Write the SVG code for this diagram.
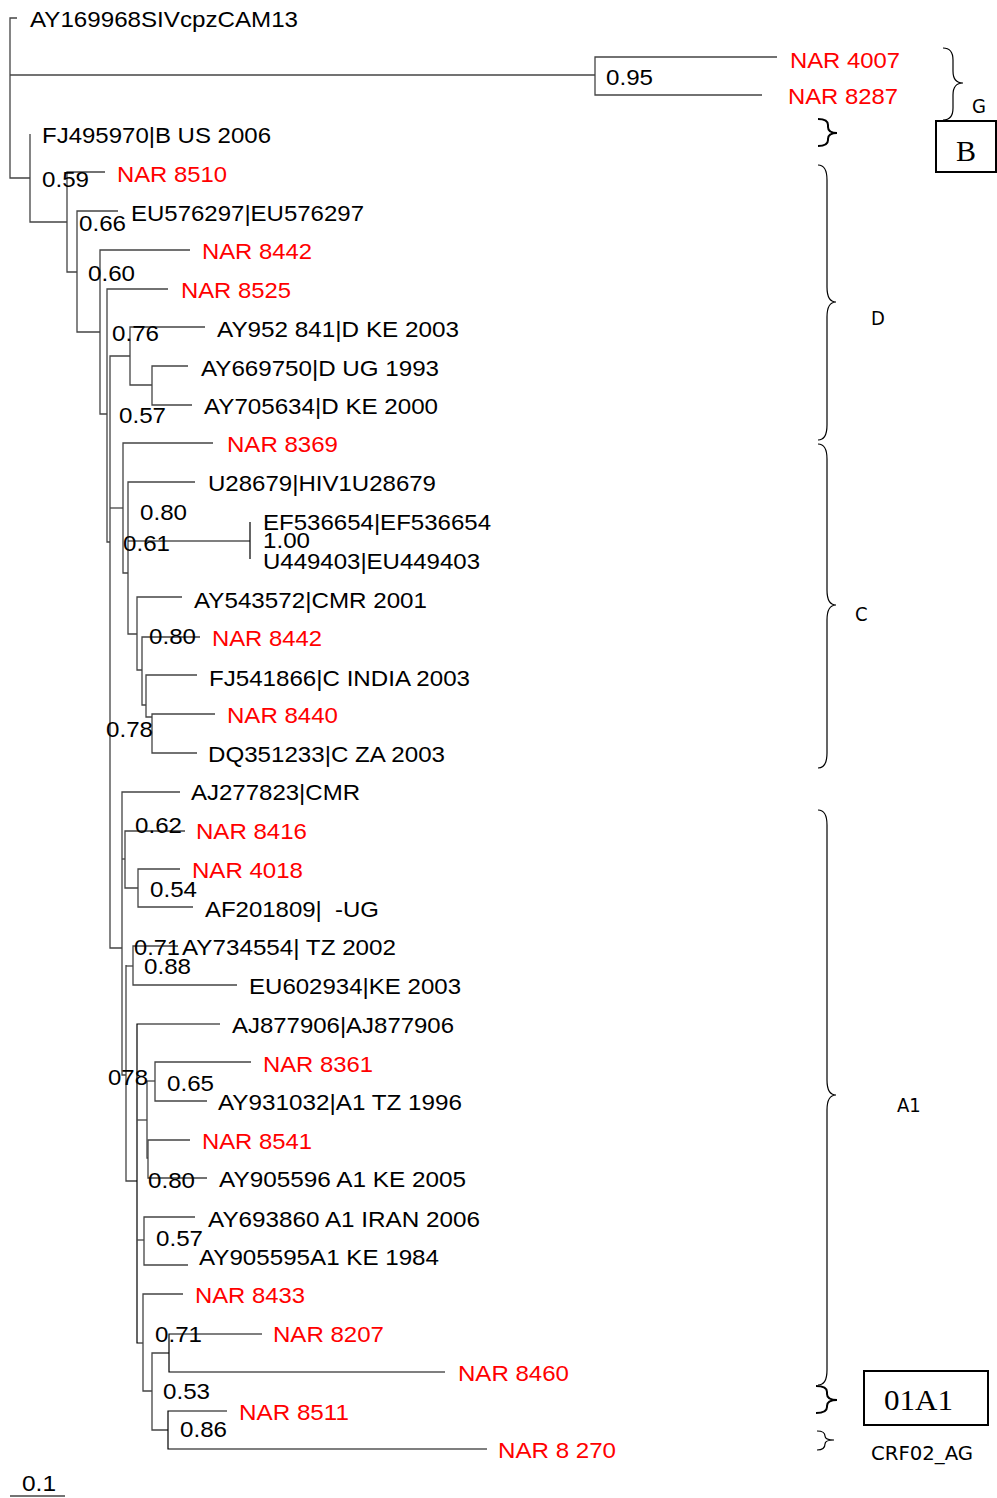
<svg xmlns="http://www.w3.org/2000/svg" width="997" height="1498" viewBox="0 0 997 1498">
<style>
.t{font-family:"Liberation Sans",Arial,sans-serif;font-size:22px;fill:#000}
.r{fill:#f00}
.e{fill:none;stroke:#444;stroke-width:1.3}
.br{fill:none;stroke:#000;stroke-width:1.2}
.bb{fill:none;stroke:#000;stroke-width:2}
.g{font-family:"Liberation Sans Narrow","DejaVu Sans Condensed",sans-serif;font-size:20px;fill:#000}
.box{fill:none;stroke:#000;stroke-width:2}
.s{font-family:"Liberation Serif","Times New Roman",serif;fill:#000}
</style>
<rect width="997" height="1498" fill="#fff"/>
<g id="connectors">
<path class="e" d="M17,18 H10 V178 H30"/>
<path class="e" d="M10,75 H595"/>
<path class="e" d="M777,57 H595 V95 H762"/>
<path class="e" d="M30,134 V222 H67"/>
<path class="e" d="M105,172 H67 V272 H77"/>
<path class="e" d="M118,211 H77 V332 H100"/>
<path class="e" d="M190,250 H100 V414 H107"/>
<path class="e" d="M168,289 H107 V542 H110"/>
<path class="e" d="M130,356 H110 V948 H122"/>
<path class="e" d="M110,508 H123"/>
<path class="e" d="M205,327 H130 V385 H152"/>
<path class="e" d="M188,366 H152 V405 H192"/>
<path class="e" d="M213,443 H123 V573 H128"/>
<path class="e" d="M195,482 H128 V634 H137"/>
<path class="br" d="M128,541 H250 M250,522 V559"/>
<path class="e" d="M182,597 H137 V670 H142"/>
<path class="e" d="M200,637 H142 V705 H146"/>
<path class="e" d="M197,675 H146 V717 H152"/>
<path class="e" d="M215,714 H152 V753 H197"/>
<path class="e" d="M180,792 H122 V1075 H126"/>
<path class="e" d="M122,859 H125"/>
<path class="e" d="M185,831 H125 V888 H138"/>
<path class="e" d="M180,869 H138 V907 H193"/>
<path class="e" d="M126,966 H133"/>
<path class="e" d="M178,946 H133 V985 H237"/>
<path class="e" d="M126,965 V1181 H137"/>
<path class="br" d="M220,1024 H137 V1343 H143"/>
<path class="e" d="M137,1120 H147"/>
<path class="e" d="M147,1081 H155"/>
<path class="e" d="M251,1062 H155 V1101 H207"/>
<path class="e" d="M147,1081 V1158 H148"/>
<path class="e" d="M190,1140 H148 V1178 H207"/>
<path class="e" d="M137,1240 H144"/>
<path class="e" d="M195,1217 H144 V1265 H188"/>
<path class="e" d="M183,1294 H143 V1391 H152"/>
<path class="e" d="M169,1353 H152 V1430 H168"/>
<path class="br" d="M262,1334 H169 V1372 H445"/>
<path class="br" d="M227,1411 H168 V1449 H487"/>
</g>
<g id="leaf-AY169968"><text class="t" x="30" y="27" textLength="268" lengthAdjust="spacingAndGlyphs">AY169968SIVcpzCAM13</text></g>
<g id="leaf-NAR4007"><text class="t r" x="790" y="68" textLength="110" lengthAdjust="spacingAndGlyphs">NAR 4007</text></g>
<g id="leaf-NAR8287"><text class="t r" x="788" y="104" textLength="110" lengthAdjust="spacingAndGlyphs">NAR 8287</text></g>
<g id="bs-095"><text class="t" x="606" y="85" textLength="47" lengthAdjust="spacingAndGlyphs">0.95</text></g>
<g id="leaf-FJ495970"><text class="t" x="42" y="143" textLength="229" lengthAdjust="spacingAndGlyphs">FJ495970|B US 2006</text></g>
<g id="bs-059"><text class="t" x="42" y="187" textLength="47" lengthAdjust="spacingAndGlyphs">0.59</text></g>
<g id="leaf-NAR8510"><text class="t r" x="117" y="182" textLength="110" lengthAdjust="spacingAndGlyphs">NAR 8510</text></g>
<g id="bs-066"><text class="t" x="79" y="231" textLength="47" lengthAdjust="spacingAndGlyphs">0.66</text></g>
<g id="leaf-EU576297"><text class="t" x="131" y="221" textLength="233" lengthAdjust="spacingAndGlyphs">EU576297|EU576297</text></g>
<g id="leaf-NAR8442a"><text class="t r" x="202" y="259" textLength="110" lengthAdjust="spacingAndGlyphs">NAR 8442</text></g>
<g id="bs-060"><text class="t" x="88" y="281" textLength="47" lengthAdjust="spacingAndGlyphs">0.60</text></g>
<g id="leaf-NAR8525"><text class="t r" x="181" y="298" textLength="110" lengthAdjust="spacingAndGlyphs">NAR 8525</text></g>
<g id="bs-076"><text class="t" x="112" y="341" textLength="47" lengthAdjust="spacingAndGlyphs">0.76</text></g>
<g id="leaf-AY952841"><text class="t" x="217" y="337" textLength="242" lengthAdjust="spacingAndGlyphs">AY952 841|D KE 2003</text></g>
<g id="leaf-AY669750"><text class="t" x="201" y="376" textLength="238" lengthAdjust="spacingAndGlyphs">AY669750|D UG 1993</text></g>
<g id="leaf-AY705634"><text class="t" x="204" y="414" textLength="234" lengthAdjust="spacingAndGlyphs">AY705634|D KE 2000</text></g>
<g id="bs-057a"><text class="t" x="119" y="423" textLength="47" lengthAdjust="spacingAndGlyphs">0.57</text></g>
<g id="leaf-NAR8369"><text class="t r" x="227" y="452" textLength="111" lengthAdjust="spacingAndGlyphs">NAR 8369</text></g>
<g id="leaf-U28679"><text class="t" x="208" y="491" textLength="228" lengthAdjust="spacingAndGlyphs">U28679|HIV1U28679</text></g>
<g id="bs-080a"><text class="t" x="140" y="520" textLength="47" lengthAdjust="spacingAndGlyphs">0.80</text></g>
<g id="leaf-EF536654"><text class="t" x="263" y="530" textLength="228" lengthAdjust="spacingAndGlyphs">EF536654|EF536654</text></g>
<g id="bs-100"><text class="t" x="263" y="548" textLength="47" lengthAdjust="spacingAndGlyphs">1.00</text></g>
<g id="bs-061"><text class="t" x="123" y="551" textLength="47" lengthAdjust="spacingAndGlyphs">0.61</text></g>
<g id="leaf-U449403"><text class="t" x="263" y="569" textLength="217" lengthAdjust="spacingAndGlyphs">U449403|EU449403</text></g>
<g id="leaf-AY543572"><text class="t" x="194" y="608" textLength="233" lengthAdjust="spacingAndGlyphs">AY543572|CMR 2001</text></g>
<g id="bs-080b"><text class="t" x="149" y="644" textLength="47" lengthAdjust="spacingAndGlyphs">0.80</text></g>
<g id="leaf-NAR8442b"><text class="t r" x="212" y="646" textLength="110" lengthAdjust="spacingAndGlyphs">NAR 8442</text></g>
<g id="leaf-FJ541866"><text class="t" x="209" y="686" textLength="261" lengthAdjust="spacingAndGlyphs">FJ541866|C INDIA 2003</text></g>
<g id="leaf-NAR8440"><text class="t r" x="227" y="723" textLength="111" lengthAdjust="spacingAndGlyphs">NAR 8440</text></g>
<g id="bs-078"><text class="t" x="106" y="737" textLength="47" lengthAdjust="spacingAndGlyphs">0.78</text></g>
<g id="leaf-DQ351233"><text class="t" x="208" y="762" textLength="237" lengthAdjust="spacingAndGlyphs">DQ351233|C ZA 2003</text></g>
<g id="leaf-AJ277823"><text class="t" x="191" y="800" textLength="169" lengthAdjust="spacingAndGlyphs">AJ277823|CMR</text></g>
<g id="bs-062"><text class="t" x="135" y="833" textLength="47" lengthAdjust="spacingAndGlyphs">0.62</text></g>
<g id="leaf-NAR8416"><text class="t r" x="196" y="839" textLength="111" lengthAdjust="spacingAndGlyphs">NAR 8416</text></g>
<g id="leaf-NAR4018"><text class="t r" x="192" y="878" textLength="111" lengthAdjust="spacingAndGlyphs">NAR 4018</text></g>
<g id="bs-054"><text class="t" x="150" y="897" textLength="47" lengthAdjust="spacingAndGlyphs">0.54</text></g>
<g id="leaf-AF201809"><text class="t" x="205" y="917" textLength="174" lengthAdjust="spacingAndGlyphs" xml:space="preserve">AF201809|  -UG</text></g>
<g id="bs-071a"><text class="t" x="134" y="955" textLength="46" lengthAdjust="spacingAndGlyphs">0.71</text></g>
<g id="leaf-AY734554"><text class="t" x="182" y="955" textLength="214" lengthAdjust="spacingAndGlyphs">AY734554| TZ 2002</text></g>
<g id="bs-088"><text class="t" x="144" y="974" textLength="47" lengthAdjust="spacingAndGlyphs">0.88</text></g>
<g id="leaf-EU602934"><text class="t" x="249" y="994" textLength="212" lengthAdjust="spacingAndGlyphs">EU602934|KE 2003</text></g>
<g id="leaf-AJ877906"><text class="t" x="232" y="1033" textLength="222" lengthAdjust="spacingAndGlyphs">AJ877906|AJ877906</text></g>
<g id="leaf-NAR8361"><text class="t r" x="263" y="1072" textLength="110" lengthAdjust="spacingAndGlyphs">NAR 8361</text></g>
<g id="bs-078b"><text class="t" x="108" y="1085" textLength="40" lengthAdjust="spacingAndGlyphs">078</text></g>
<g id="bs-065"><text class="t" x="167" y="1091" textLength="47" lengthAdjust="spacingAndGlyphs">0.65</text></g>
<g id="leaf-AY931032"><text class="t" x="218" y="1110" textLength="244" lengthAdjust="spacingAndGlyphs">AY931032|A1 TZ 1996</text></g>
<g id="leaf-NAR8541"><text class="t r" x="202" y="1149" textLength="110" lengthAdjust="spacingAndGlyphs">NAR 8541</text></g>
<g id="bs-080c"><text class="t" x="148" y="1188" textLength="47" lengthAdjust="spacingAndGlyphs">0.80</text></g>
<g id="leaf-AY905596"><text class="t" x="219" y="1187" textLength="247" lengthAdjust="spacingAndGlyphs">AY905596 A1 KE 2005</text></g>
<g id="leaf-AY693860"><text class="t" x="208" y="1227" textLength="272" lengthAdjust="spacingAndGlyphs">AY693860 A1 IRAN 2006</text></g>
<g id="bs-057b"><text class="t" x="156" y="1246" textLength="47" lengthAdjust="spacingAndGlyphs">0.57</text></g>
<g id="leaf-AY905595"><text class="t" x="199" y="1265" textLength="240" lengthAdjust="spacingAndGlyphs">AY905595A1 KE 1984</text></g>
<g id="leaf-NAR8433"><text class="t r" x="195" y="1303" textLength="110" lengthAdjust="spacingAndGlyphs">NAR 8433</text></g>
<g id="bs-071b"><text class="t" x="155" y="1342" textLength="47" lengthAdjust="spacingAndGlyphs">0.71</text></g>
<g id="leaf-NAR8207"><text class="t r" x="273" y="1342" textLength="111" lengthAdjust="spacingAndGlyphs">NAR 8207</text></g>
<g id="leaf-NAR8460"><text class="t r" x="458" y="1381" textLength="111" lengthAdjust="spacingAndGlyphs">NAR 8460</text></g>
<g id="bs-053"><text class="t" x="163" y="1399" textLength="47" lengthAdjust="spacingAndGlyphs">0.53</text></g>
<g id="leaf-NAR8511"><text class="t r" x="239" y="1420" textLength="110" lengthAdjust="spacingAndGlyphs">NAR 8511</text></g>
<g id="bs-086"><text class="t" x="180" y="1437" textLength="47" lengthAdjust="spacingAndGlyphs">0.86</text></g>
<g id="leaf-NAR8270"><text class="t r" x="498" y="1458" textLength="118" lengthAdjust="spacingAndGlyphs">NAR 8 270</text></g>
<g id="scale-bar">
<path class="e" d="M10,1496 H65"/>
<text class="t" x="22" y="1491" textLength="34" lengthAdjust="spacingAndGlyphs">0.1</text>
</g>
<g id="brace-G">
<path class="br" d="M943,48 Q953,48 953,60 L953,71 Q953,83 963,83 Q953,83 953,95 L953,108 Q953,120 943,120"/>
<text class="g" x="972" y="113">G</text>
</g>
<g id="box-B">
<path class="bb" d="M818,119 Q828,119 828,125 L828,127 Q828,133 837,133 Q828,133 828,139 L828,140 Q828,146 818,146"/>
<rect class="box" x="936" y="121" width="60" height="51"/>
<text class="s" x="966" y="161" font-size="30" text-anchor="middle">B</text>
</g>
<g id="brace-D">
<path class="br" d="M818,165 Q827,165 827,180 L827,287 Q827,302 836,302 Q827,302 827,317 L827,425 Q827,440 818,440"/>
<text class="g" x="871" y="325">D</text>
</g>
<g id="brace-C">
<path class="br" d="M818,444 Q827,444 827,459 L827,590 Q827,605 836,605 Q827,605 827,620 L827,753 Q827,768 818,768"/>
<text class="g" x="855" y="621">C</text>
</g>
<g id="brace-A1">
<path class="br" d="M818,810 Q827,810 827,825 L827,1080 Q827,1095 836,1095 Q827,1095 827,1110 L827,1370 Q827,1385 818,1385"/>
<text class="g" x="897" y="1112">A1</text>
</g>
<g id="box-01A1">
<path class="bb" d="M816,1386 Q827,1386 827,1392 L827,1394 Q827,1400 837,1400 Q827,1400 827,1406 L827,1407 Q827,1413 816,1413"/>
<rect class="box" x="864" y="1371" width="124" height="54"/>
<text class="s" x="884" y="1410" font-size="29" textLength="69" lengthAdjust="spacingAndGlyphs">01A1</text>
</g>
<g id="brace-CRF02">
<path class="br" d="M817,1431 Q825,1431 825,1436 Q825,1440 834,1440 Q825,1440 825,1444 Q825,1450 817,1450"/>
<text class="g" x="871" y="1460" font-size="23" textLength="102" lengthAdjust="spacingAndGlyphs">CRF02_AG</text>
</g>
</svg>
